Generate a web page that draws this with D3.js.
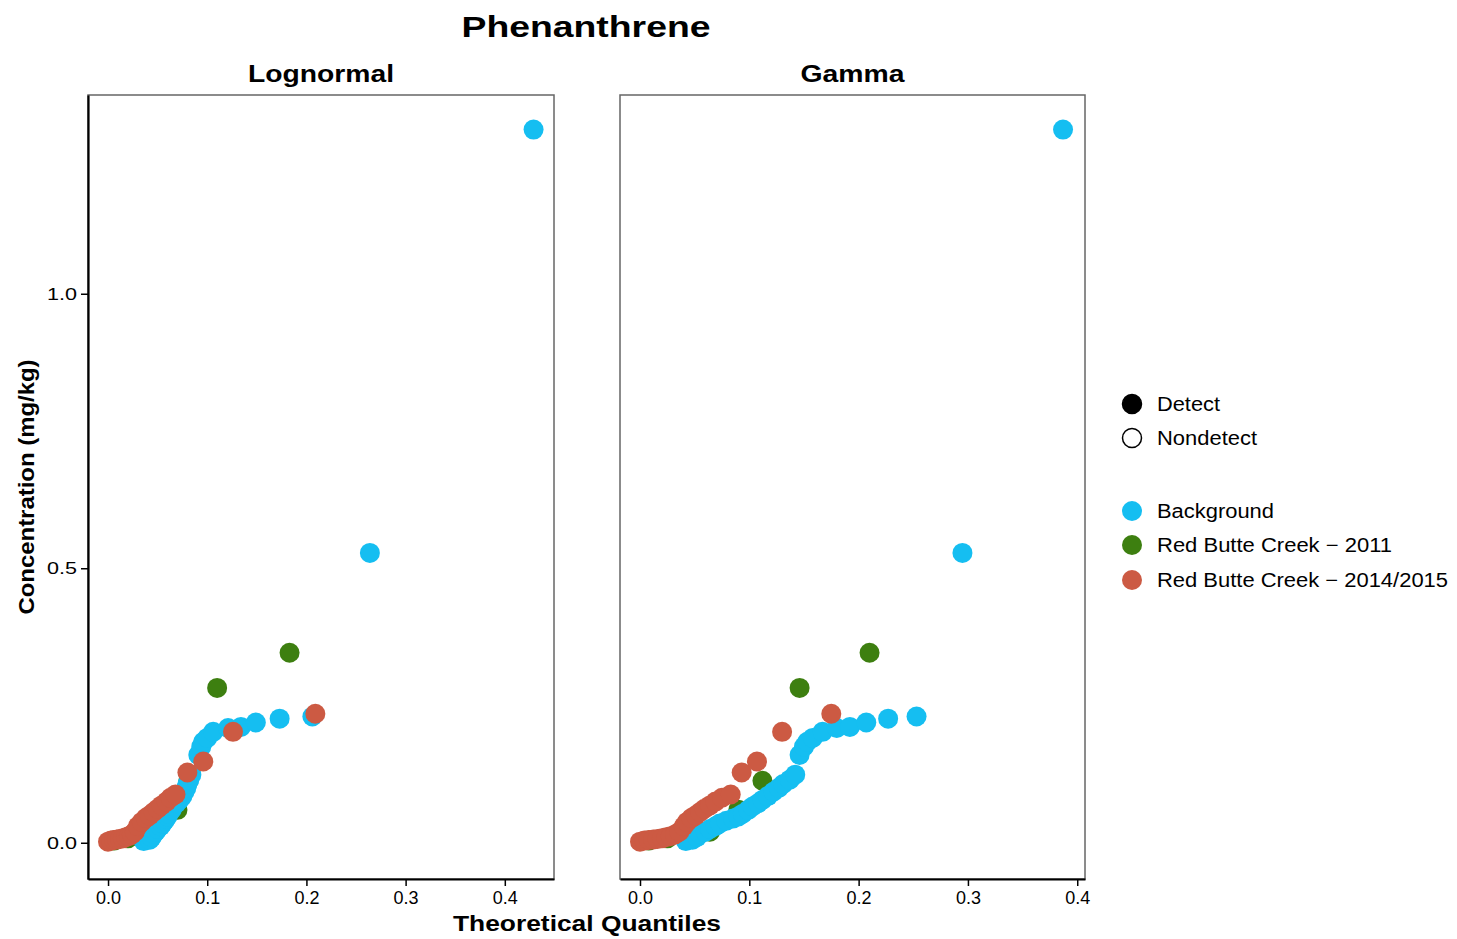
<!DOCTYPE html>
<html>
<head>
<meta charset="utf-8">
<style>
  body { margin: 0; background: #fff; }
  svg text { font-family: "Liberation Sans", Arial, sans-serif; fill: #000; }
</style>
</head>
<body>
<svg id="chart" width="1457" height="939"></svg>
<script src="https://d3js.org/d3.v7.min.js"></script>
<script>
// concentration (mg/kg) and theoretical quantiles for each group
const bgConc   = [0.003, 0.0055, 0.010, 0.016, 0.020, 0.025, 0.030, 0.035, 0.040, 0.044, 0.048, 0.053, 0.060, 0.066, 0.072, 0.078, 0.085, 0.093, 0.100, 0.107, 0.115, 0.124, 0.160, 0.175, 0.184, 0.191, 0.202, 0.209, 0.211, 0.219, 0.226, 0.230, 0.528, 1.299];
const bgLogQ   = [0.036, 0.042, 0.044, 0.046, 0.048, 0.050, 0.053, 0.055, 0.057, 0.058, 0.060, 0.061, 0.064, 0.066, 0.069, 0.072, 0.075, 0.077, 0.079, 0.080, 0.082, 0.084, 0.091, 0.094, 0.096, 0.100, 0.106, 0.121, 0.134, 0.149, 0.173, 0.206, 0.264, 0.429];
const bgGamQ   = [0.042, 0.048, 0.052, 0.055, 0.060, 0.064, 0.069, 0.073, 0.079, 0.085, 0.090, 0.094, 0.099, 0.103, 0.108, 0.112, 0.117, 0.122, 0.127, 0.131, 0.137, 0.142, 0.146, 0.150, 0.153, 0.158, 0.167, 0.180, 0.192, 0.207, 0.227, 0.253, 0.295, 0.387];

const rbc11Conc = [0.004, 0.008, 0.012, 0.020, 0.060, 0.113, 0.282, 0.346];
const rbc11LogQ = [0.006, 0.020, 0.035, 0.045, 0.070, 0.081, 0.110, 0.183];
const rbc11GamQ = [0.008, 0.025, 0.045, 0.064, 0.090, 0.112, 0.146, 0.210];

const rbc14Conc = [0.002, 0.004, 0.005, 0.006, 0.007, 0.008, 0.010, 0.012, 0.015, 0.020, 0.030, 0.038, 0.045, 0.050, 0.056, 0.062, 0.068, 0.075, 0.082, 0.088, 0.128, 0.148, 0.202, 0.235];
const rbc14LogQ = [0.000, 0.003, 0.006, 0.009, 0.012, 0.015, 0.018, 0.021, 0.024, 0.027, 0.030, 0.034, 0.038, 0.042, 0.046, 0.050, 0.054, 0.059, 0.063, 0.068, 0.080, 0.096, 0.126, 0.209];
const rbc14GamQ = [0.000, 0.004, 0.008, 0.012, 0.016, 0.020, 0.024, 0.028, 0.032, 0.036, 0.040, 0.043, 0.047, 0.051, 0.055, 0.059, 0.064, 0.069, 0.075, 0.083, 0.093, 0.107, 0.130, 0.175];

const xTicks = [0, 0.1, 0.2, 0.3, 0.4];
const yTicks = [0, 0.5, 1.0];

const groups = [
  {name: 'Red Butte Creek - 2011',      color: '#3d7f10', conc: rbc11Conc, logQ: rbc11LogQ, gamQ: rbc11GamQ},
  {name: 'Background',                  color: '#15bef1', conc: bgConc,    logQ: bgLogQ,    gamQ: bgGamQ},
  {name: 'Red Butte Creek - 2014/2015', color: '#cc5a43', conc: rbc14Conc, logQ: rbc14LogQ, gamQ: rbc14GamQ}
];

const svg = d3.select('#chart');

function label(sel, x, y, txt, size, len, opts = {}) {
  const t = sel.append('text')
    .attr('x', x).attr('y', y)
    .attr('font-size', size)
    .attr('font-weight', opts.bold ? 'bold' : 'normal')
    .attr('text-anchor', opts.anchor || 'start')
    .text(txt);
  if (len) t.attr('textLength', len).attr('lengthAdjust', 'spacingAndGlyphs');
  if (opts.transform) t.attr('transform', opts.transform);
  return t;
}

// shared y scale
const yScale = d3.scaleLinear().domain([-0.066, 1.362]).range([879, 95]);

const panels = [
  {title: 'Lognormal', key: 'logQ', x0: 88,  x1: 554,  domain: [-0.0202, 0.4496], titleLen: 146, leftAxis: true},
  {title: 'Gamma',     key: 'gamQ', x0: 620, x1: 1085, domain: [-0.0183, 0.4071], titleLen: 104, leftAxis: false}
];

panels.forEach(p => {
  const xScale = d3.scaleLinear().domain(p.domain).range([p.x0, p.x1]);
  const g = svg.append('g');

  // panel frame
  g.append('rect')
    .attr('x', p.x0).attr('y', 95)
    .attr('width', p.x1 - p.x0).attr('height', 879 - 95)
    .attr('fill', 'none').attr('stroke', '#666').attr('stroke-width', 1.5);

  // points
  groups.forEach(grp => {
    g.append('g').selectAll('circle')
      .data(grp.conc.map((c, i) => ({c: c, q: grp[p.key][i]})))
      .join('circle')
      .attr('cx', d => xScale(d.q))
      .attr('cy', d => yScale(d.c))
      .attr('r', 10)
      .attr('fill', grp.color);
  });

  // x axis
  const xAxis = d3.axisBottom(xScale).tickValues(xTicks).tickFormat(d3.format('.1f')).tickSize(7).tickSizeOuter(0);
  const gx = g.append('g').attr('transform', 'translate(0,879)').call(xAxis);
  gx.select('.domain').attr('stroke', '#000').attr('stroke-width', 2.2);
  gx.selectAll('.tick line').attr('stroke', '#000').attr('stroke-width', 1.5);
  gx.selectAll('.tick text')
    .attr('font-size', 18).attr('fill', '#222').attr('y', 12)
    .attr('font-family', '"Liberation Sans", Arial, sans-serif')
    .attr('textLength', 25).attr('lengthAdjust', 'spacingAndGlyphs');

  if (p.leftAxis) {
    const yAxis = d3.axisLeft(yScale).tickValues(yTicks).tickFormat(d3.format('.1f')).tickSize(7).tickSizeOuter(0);
    const gy = g.append('g').attr('transform', `translate(${p.x0},0)`).call(yAxis);
    gy.select('.domain').attr('stroke', '#000').attr('stroke-width', 2.2);
    gy.selectAll('.tick line').attr('stroke', '#000').attr('stroke-width', 1.5);
    gy.selectAll('.tick text')
      .attr('font-size', 17).attr('fill', '#222').attr('x', -11)
      .attr('font-family', '"Liberation Sans", Arial, sans-serif')
      .attr('textLength', 30).attr('lengthAdjust', 'spacingAndGlyphs');
  }

  // strip title
  label(svg, (p.x0 + p.x1) / 2, 82, p.title, 23, p.titleLen, {bold: true, anchor: 'middle'});
});

// titles
label(svg, 586, 37, 'Phenanthrene', 30, 249, {bold: true, anchor: 'middle'});
label(svg, 587, 931, 'Theoretical Quantiles', 22, 268, {bold: true, anchor: 'middle'});
label(svg, 0, 0, 'Concentration (mg/kg)', 22, 255, {bold: true, anchor: 'middle', transform: 'translate(34,487) rotate(-90)'});

// legend
const legend = svg.append('g');
const shapeItems = [
  {name: 'Detect',    y: 404, fill: '#000', len: 63},
  {name: 'Nondetect', y: 438, fill: '#fff', len: 100}
];
shapeItems.forEach(it => {
  legend.append('circle').attr('cx', 1132).attr('cy', it.y).attr('r', 9.5)
    .attr('fill', it.fill).attr('stroke', '#000').attr('stroke-width', 1.5);
  label(legend, 1157, it.y + 7, it.name, 20, it.len);
});
const colorItems = [
  {grp: groups[1], y: 511, len: 117},
  {grp: groups[0], y: 545, len: 235},
  {grp: groups[2], y: 580, len: 291}
];
colorItems.forEach(it => {
  legend.append('circle').attr('cx', 1132).attr('cy', it.y).attr('r', 10).attr('fill', it.grp.color);
  label(legend, 1157, it.y + 7, it.grp.name.replace(' - ', ' \u2212 '), 20, it.len);
});
</script>
</body>
</html>
